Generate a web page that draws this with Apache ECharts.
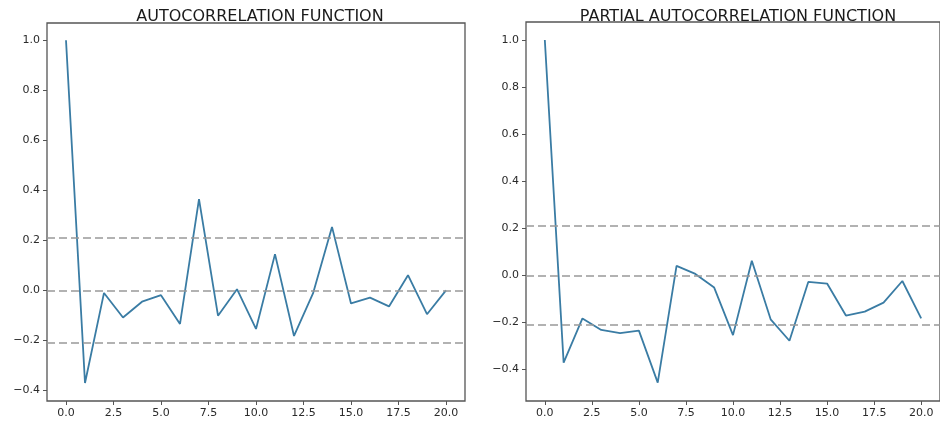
<!DOCTYPE html>
<html>
<head>
<meta charset="utf-8">
<script src="https://cdn.jsdelivr.net/npm/echarts@6/dist/echarts.min.js"></script>
<style>
html,body{margin:0;padding:0;background:#fff;}
#main{width:940px;height:423px;}
</style>
</head>
<body>
<div id="main"></div>
<script>
// lags and values
var lags = [0,1,2,3,4,5,6,7,8,9,10,11,12,13,14,15,16,17,18,19,20];
var acfValues = [1.0,-0.37,-0.01,-0.108,-0.045,-0.019,-0.134,0.365,-0.101,0.005,-0.154,0.145,-0.182,-0.012,0.254,-0.052,-0.029,-0.064,0.061,-0.095,0.0];
var pacfValues = [1.0,-0.371,-0.183,-0.232,-0.246,-0.235,-0.456,0.040,0.006,-0.052,-0.254,0.062,-0.187,-0.278,-0.028,-0.035,-0.171,-0.154,-0.116,-0.024,-0.183];
// dashed reference lines (confidence band and zero)
var refLines = [0.206, 0, -0.206];
var xTicks = [0,2.5,5,7.5,10,12.5,15,17.5,20];
var yTicks = [-0.4,-0.2,0,0.2,0.4,0.6,0.8,1.0];
var titles = ["AUTOCORRELATION FUNCTION","PARTIAL AUTOCORRELATION FUNCTION"];

var lineColor = "#3a7ca4";
var axisColor = "#555";

function fmt(v){
    return v.toFixed(1).replace("-","\u2212");
}

function makeX(idx){
    return {
        type:'value', gridIndex:idx, min:-1, max:21,
        axisLine:{show:false, onZero:false},
        splitLine:{show:false},
        axisTick:{show:true, inside:false, length:4, customValues:xTicks, lineStyle:{color:axisColor}},
        axisLabel:{customValues:xTicks, formatter:fmt, color:"#2a2a2a", fontSize:11, fontFamily:"DejaVu Sans", margin:7}
    };
}
function makeY(idx,min,max){
    return {
        type:'value', gridIndex:idx, min:min, max:max,
        axisLine:{show:false, onZero:false},
        splitLine:{show:false},
        axisTick:{show:true, inside:false, length:4, customValues:yTicks, lineStyle:{color:axisColor}},
        axisLabel:{customValues:yTicks, formatter:fmt, color:"#2a2a2a", fontSize:11, fontFamily:"DejaVu Sans", margin:7}
    };
}
function pairs(vals){
    var out=[];
    for(var i=0;i<lags.length;i++){
        out.push([lags[i],vals[i]]);
    }
    return out;
}
function makeSeries(idx,vals){
    var marks=[];
    for(var i=0;i<refLines.length;i++){
        marks.push({yAxis:refLines[i]});
    }
    return {
        type:'line', xAxisIndex:idx, yAxisIndex:idx,
        data:pairs(vals),
        showSymbol:false, symbol:'none',
        lineStyle:{color:lineColor, width:1.8},
        animation:false,
        z:3,
        markLine:{
            silent:true, symbol:['none','none'], label:{show:false},
            lineStyle:{color:"#999", width:1.6, type:[8,4]},
            data:marks, animation:false
        }
    };
}

var myChart = echarts.init(document.getElementById('main'));
var option = {
    backgroundColor:'#fff',
    animation:false,
    title:[
        {text:titles[0], left:255, top:4, textAlign:'center', textStyle:{fontSize:16, fontWeight:'normal', color:'#1a1a1a', fontFamily:'DejaVu Sans'}},
        {text:titles[1], left:733, top:4, textAlign:'center', textStyle:{fontSize:16, fontWeight:'normal', color:'#1a1a1a', fontFamily:'DejaVu Sans'}}
    ],
    grid:[
        {left:47, top:23, width:418, height:378, show:true, borderColor:axisColor, borderWidth:1.3, backgroundColor:'transparent'},
        {left:526, top:22, width:416, height:379, show:true, borderColor:axisColor, borderWidth:1.3, backgroundColor:'transparent'}
    ],
    xAxis:[makeX(0), makeX(1)],
    yAxis:[makeY(0,-0.442,1.069), makeY(1,-0.534,1.0765)],
    series:[makeSeries(0,acfValues), makeSeries(1,pacfValues)]
};
myChart.setOption(option);
</script>
</body>
</html>
